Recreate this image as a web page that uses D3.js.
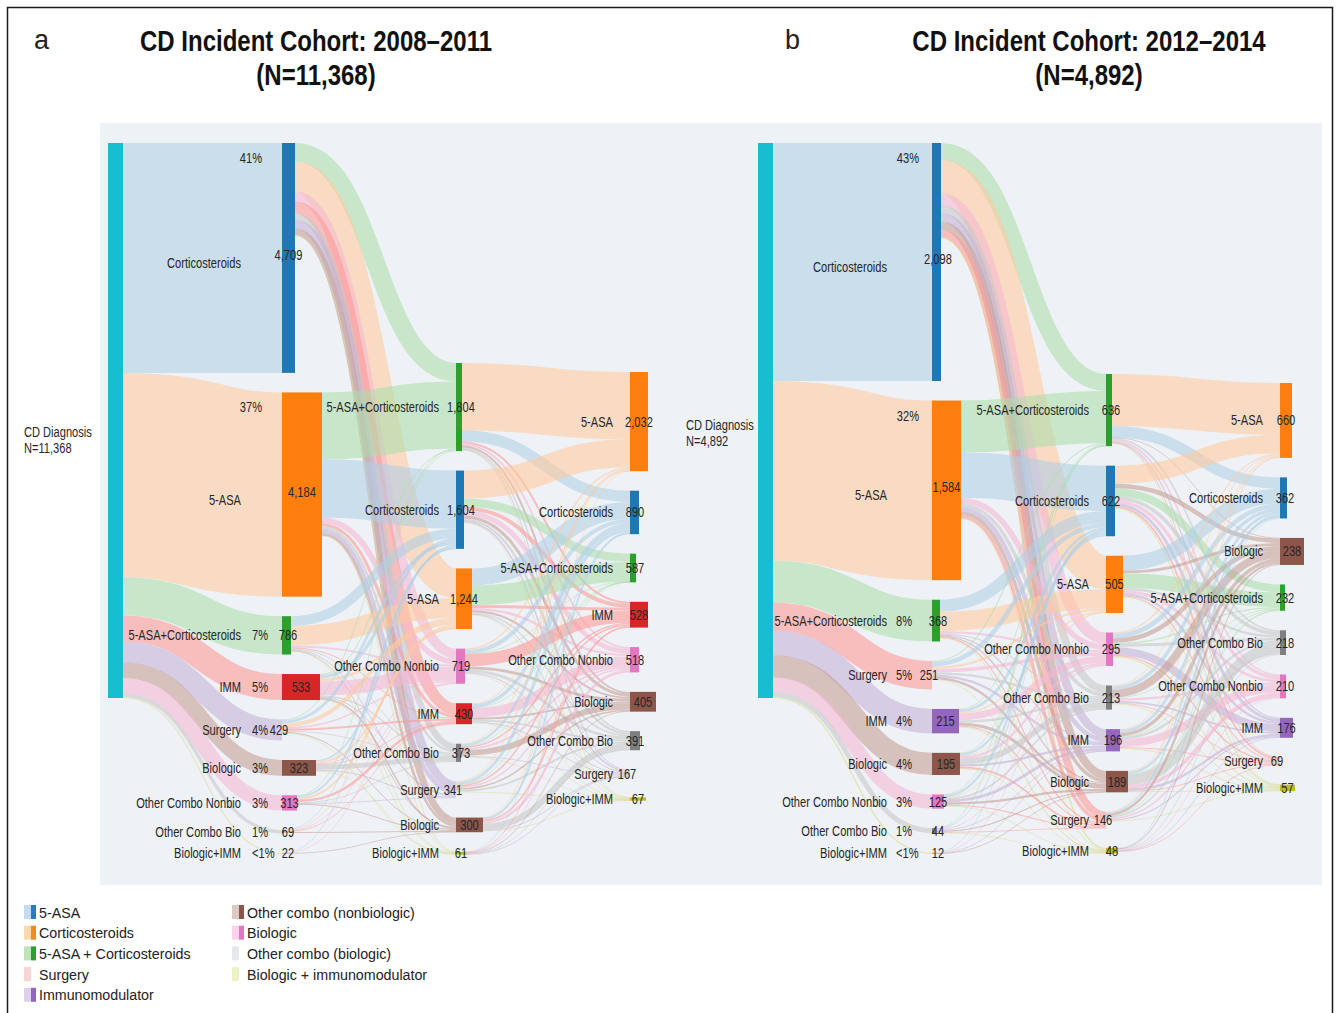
<!DOCTYPE html>
<html>
<head>
<meta charset="utf-8">
<script src="https://cdn.jsdelivr.net/npm/d3@7"></script>
<style>
body { margin: 0; background: #fff; }
svg { display: block; }
</style>
</head>
<body>
<svg id="chart" width="1340" height="1013"></svg>
<script>
// treatment codes -> text shown on the nodes
var nodeLabels = {CS: "Corticosteroids", ASA: "5-ASA", AC: "5-ASA+Corticosteroids", IMM: "IMM",
    SUR: "Surgery", BIO: "Biologic", OCN: "Other Combo Nonbio", OCB: "Other Combo Bio", BIM: "Biologic+IMM"};

// ---- cohort a: 2008-2011 ----
var a_first = ["CS", "ASA", "AC", "IMM", "SUR", "BIO", "OCN", "OCB", "BIM"];
var a_firstN = [4709, 4184, 786, 533, 429, 323, 313, 69, 22];
var a_firstPct = ["41%", "37%", "7%", "5%", "4%", "3%", "3%", "1%", "<1%"];
var a_second = ["AC", "CS", "ASA", "OCN", "IMM", "OCB", "SUR", "BIO", "BIM"];
var a_secondN = [1804, 1604, 1244, 719, 430, 373, 341, 300, 61];
var a_third = ["ASA", "CS", "AC", "IMM", "OCN", "BIO", "OCB", "SUR", "BIM"];
var a_thirdN = [2032, 890, 587, 528, 518, 405, 391, 167, 67];
// rows = first treatment, columns = second treatment
var a_flow12 = [
    [380, 0, 614, 204, 240, 133, 181, 140, 20],
    [1370, 1190, 0, 120, 60, 50, 90, 50, 10],
    [0, 200, 400, 40, 20, 20, 20, 15, 3],
    [20, 70, 60, 290, 0, 30, 20, 30, 10],
    [20, 60, 80, 30, 40, 20, 0, 20, 8],
    [0, 30, 40, 20, 10, 100, 20, 0, 10],
    [14, 40, 40, 0, 50, 20, 10, 20, 0],
    [0, 10, 10, 10, 10, 0, 0, 20, 0],
    [0, 4, 0, 5, 0, 0, 0, 5, 0]
];
// rows = second treatment, columns = third treatment
var a_flow23 = [
    [1380, 230, 0, 40, 40, 40, 30, 20, 5],
    [570, 0, 170, 80, 100, 60, 50, 30, 15],
    [0, 350, 400, 60, 50, 40, 30, 20, 10],
    [30, 80, 5, 250, 0, 60, 60, 20, 10],
    [20, 70, 5, 0, 200, 40, 40, 20, 10],
    [10, 50, 3, 30, 40, 120, 0, 10, 5],
    [20, 60, 4, 30, 30, 30, 40, 0, 5],
    [2, 40, 0, 30, 50, 0, 130, 20, 7],
    [0, 10, 0, 8, 8, 15, 11, 7, 0]
];

// ---- cohort b: 2012-2014 ----
var b_first = ["CS", "ASA", "AC", "SUR", "IMM", "BIO", "OCN", "OCB", "BIM"];
var b_firstN = [2098, 1584, 368, 251, 215, 195, 125, 44, 12];
var b_firstPct = ["43%", "32%", "8%", "5%", "4%", "4%", "3%", "1%", "<1%"];
var b_second = ["AC", "CS", "ASA", "OCN", "OCB", "IMM", "BIO", "SUR", "BIM"];
var b_secondN = [636, 622, 505, 295, 213, 196, 189, 146, 48];
var b_third = ["ASA", "CS", "BIO", "AC", "OCB", "OCN", "IMM", "SUR", "BIM"];
var b_thirdN = [660, 362, 238, 232, 218, 210, 176, 69, 57];
var b_flow12 = [
    [150, 0, 295, 104, 68, 74, 72, 67, 15],
    [458, 400, 0, 50, 30, 40, 30, 30, 8],
    [0, 105, 170, 20, 10, 10, 10, 10, 2],
    [10, 40, 20, 30, 20, 20, 20, 0, 5],
    [5, 25, 10, 60, 20, 0, 25, 10, 8],
    [5, 20, 5, 20, 50, 20, 0, 15, 5],
    [5, 20, 5, 0, 15, 25, 20, 10, 3],
    [3, 8, 0, 8, 0, 5, 10, 4, 2],
    [0, 4, 0, 3, 0, 2, 2, 0, 0]
];
var b_flow23 = [
    [458, 100, 5, 0, 15, 15, 10, 5, 3],
    [160, 0, 40, 70, 30, 30, 25, 15, 10],
    [0, 130, 25, 130, 20, 25, 20, 10, 8],
    [12, 40, 40, 10, 25, 0, 70, 10, 10],
    [8, 30, 70, 6, 0, 20, 15, 8, 8],
    [8, 25, 30, 6, 20, 70, 0, 8, 8],
    [8, 20, 0, 5, 90, 30, 20, 8, 5],
    [6, 12, 20, 5, 12, 15, 10, 0, 5],
    [0, 5, 8, 0, 6, 5, 6, 5, 0]
];

var legendLeft = ["5-ASA", "Corticosteroids", "5-ASA + Corticosteroids", "Surgery", "Immunomodulator"];
var legendRight = ["Other combo (nonbiologic)", "Biologic", "Other combo (biologic)", "Biologic + immunomodulator"];

// ---- styles ----
var sans = "'Liberation Sans', Arial, sans-serif";
var textCol = "#262626";
var baseColors = {
    CS: ["#1f77b4", "#b0cfe6"], ASA: ["#ff7f0e", "#ffc99c"], AC: ["#2ca02c", "#addcaa"],
    BIO: ["#8c564b", "#c49c94"], OCN: ["#e377c2", "#f7b6d2"], OCB: ["#7f7f7f", "#c7c7c7"],
    BIM: ["#bcbd22", "#dbdb8d"]
};
var colorsA = Object.assign({}, baseColors, {IMM: ["#d62728", "#ff9896"], SUR: [null, "#c5b0d5"]});
var colorsB = Object.assign({}, baseColors, {IMM: ["#9467bd", "#c5b0d5"], SUR: [null, "#ff9896"]});
// bar widths for columns 1..3
var widthsA = {CS: [13, 8, 9], ASA: [40, 16, 18], AC: [9, 6, 6], IMM: [38, 16, 18], SUR: [0, 0, 0],
    BIO: [34, 27, 26], OCN: [15, 9, 9], OCB: [2, 5, 10], BIM: [1, 10, 16]};
var widthsB = {CS: [9, 9, 7], ASA: [29, 17, 12], AC: [8, 6, 5], IMM: [27, 14, 13], SUR: [0, 0, 0],
    BIO: [28, 22, 24], OCN: [12, 7, 6], OCB: [4, 6, 6], BIM: [2, 12, 15]};

var svg = d3.select("#chart");

svg.append("rect")
    .attr("x", 7.5).attr("y", 7.5).attr("width", 1325).attr("height", 1040)
    .attr("fill", "#fff").attr("stroke", "#1a1a1a").attr("stroke-width", 1.5);

svg.append("rect")
    .attr("x", 100).attr("y", 123).attr("width", 1222).attr("height", 762)
    .attr("fill", "#eef2f6");

// condensed text: squeeze horizontally around its anchor point
function ntext(parent, tx, ty, str, anchor, size, sx, weight, color) {
    return parent.append("text")
        .attr("transform", "translate(" + tx + "," + ty + ") scale(" + sx + ",1)")
        .attr("text-anchor", anchor)
        .style("font-family", sans)
        .style("font-size", size + "px")
        .style("font-weight", weight || "normal")
        .style("fill", color || textCol)
        .text(str);
}

function drawPanel(p) {
    var g = svg.append("g");
    var total = d3.sum(p.firstN);
    var y = d3.scaleLinear().domain([0, total]).range([0, 555]);
    var x = d3.scaleLinear().domain([0, 3]).range([p.x0, p.x0 + 3 * 174]);
    var pad = 19.5;
    var fmt = d3.format(",");

    var cols = [[{key: "CD", n: total}],
        p.first.map(function(k, i) { return {key: k, n: p.firstN[i], pct: p.firstPct[i]}; }),
        p.second.map(function(k, i) { return {key: k, n: p.secondN[i]}; }),
        p.third.map(function(k, i) { return {key: k, n: p.thirdN[i]}; })];

    cols.forEach(function(col, c) {
        var yy = p.colTop[c];
        col.forEach(function(d) {
            d.col = c;
            d.x = x(c);
            d.w = c == 0 ? 15 : p.widths[d.key][c - 1];
            d.y0 = yy;
            d.y1 = yy + y(d.n);
            d.out = 0; d.inn = 0;
            yy = d.y1 + pad;
        });
    });

    var flows = [[p.firstN], p.flow12, p.flow23];
    var links = [];
    flows.forEach(function(m, c) {
        m.forEach(function(row, i) {
            row.forEach(function(v, j) {
                if (!v) return;
                var s = cols[c][i], t = cols[c + 1][j], w = y(v);
                links.push({
                    sx: s.x + s.w, sy: s.y0 + s.out + w / 2,
                    tx: t.x, ty: t.y0 + t.inn + w / 2,
                    w: w, color: p.colors[t.key][1]
                });
                s.out += w; t.inn += w;
            });
        });
    });

    var linkGen = d3.linkHorizontal();
    g.append("g").selectAll("path")
        .data(links)
        .enter()
        .append("path")
        .attr("d", function(d) { return linkGen({source: [d.sx, d.sy], target: [d.tx, d.ty]}); })
        .attr("fill", "none")
        .attr("stroke", function(d) { return d.color; })
        .attr("stroke-opacity", 0.58)
        .attr("stroke-width", function(d) { return Math.max(0.8, d.w); });

    var nodes = d3.merge(cols);
    g.append("g").selectAll("rect")
        .data(nodes.filter(function(d) { return d.w > 0 && (d.col == 0 || p.colors[d.key][0]); }))
        .enter()
        .append("rect")
        .attr("x", function(d) { return d.x; })
        .attr("y", function(d) { return d.y0; })
        .attr("width", function(d) { return d.w; })
        .attr("height", function(d) { return Math.max(1, d.y1 - d.y0); })
        .attr("fill", function(d) { return d.col == 0 ? "#17becf" : p.colors[d.key][0]; });

    function label(tx, ty, str, anchor) {
        ntext(g, tx, ty + 5, str, anchor, 15, 0.74);
    }
    function valueX(d, minW) {
        return d.w ? d.x + Math.max(d.w, minW) / 2 : d.x - 3;
    }

    // CD Diagnosis
    var cd = cols[0][0];
    label(p.cdLabelX, (cd.y0 + cd.y1) / 2 + p.cdLabelDy, "CD Diagnosis", "start");
    label(p.cdLabelX, (cd.y0 + cd.y1) / 2 + p.cdLabelDy + 16, "N=" + fmt(total), "start");

    cols[1].forEach(function(d, i) {
        var mid = (d.y0 + d.y1) / 2;
        label(d.x - p.nameOff, mid + (i < 2 ? 5 : 0), nodeLabels[d.key], "end");
        if (i < 2) label(d.x - p.bigPctOff, d.y0 + 15, d.pct, "end");
        else label(d.x - p.pctOff, mid, d.pct, "start");
        label(valueX(d, 12), mid + (i < 2 ? -3 : 0), fmt(d.n), "middle");
    });
    [2, 3].forEach(function(c) {
        cols[c].forEach(function(d) {
            var mid = (d.y0 + d.y1) / 2;
            label(d.x - 17, mid, nodeLabels[d.key], "end");
            label(valueX(d, 10), mid, fmt(d.n), "middle");
        });
    });

    // titles
    svg.append("text")
        .attr("x", p.letterX).attr("y", 49)
        .style("font-family", sans)
        .style("font-size", "27px")
        .style("fill", "#222")
        .text(p.letter);
    ntext(svg, p.titleX, 51, p.title, "middle", 30, 0.8, "bold", "#111");
    ntext(svg, p.titleX, 85, "(N=" + fmt(total) + ")", "middle", 30, 0.8, "bold", "#111");
}

drawPanel({
    first: a_first, firstN: a_firstN, firstPct: a_firstPct,
    second: a_second, secondN: a_secondN, third: a_third, thirdN: a_thirdN,
    flow12: a_flow12, flow23: a_flow23,
    colors: colorsA, widths: widthsA,
    x0: 108, colTop: [143, 143, 363, 372],
    nameOff: 41, pctOff: 30, bigPctOff: 20,
    cdLabelX: 24, cdLabelDy: 11,
    letter: "a", letterX: 34, title: "CD Incident Cohort: 2008\u20132011", titleX: 316
});

drawPanel({
    first: b_first, firstN: b_firstN, firstPct: b_firstPct,
    second: b_second, secondN: b_secondN, third: b_third, thirdN: b_thirdN,
    flow12: b_flow12, flow23: b_flow23,
    colors: colorsB, widths: widthsB,
    x0: 758, colTop: [143, 143, 374, 383],
    nameOff: 45, pctOff: 36, bigPctOff: 13,
    cdLabelX: 686, cdLabelDy: 4,
    letter: "b", letterX: 785, title: "CD Incident Cohort: 2012\u20132014", titleX: 1089
});

// legend
var legendSw = [
    ["#c6dbef", "#2b7bba"], ["#fdd9ab", "#f28a22"], ["#bfe3b8", "#2ca02c"], ["#fad4d4", null], ["#ddd2ea", "#9467bd"],
    ["#dccac5", "#8c564b"], ["#fbd3e6", "#e377c2"], ["#e7e8ec", null], ["#eef1c4", null]
];
var legendItems = legendLeft.map(function(t, i) { return {t: t, col: 0, row: i, sw: legendSw[i]}; })
    .concat(legendRight.map(function(t, i) { return {t: t, col: 1, row: i, sw: legendSw[5 + i]}; }));

var lg = svg.append("g").selectAll("g")
    .data(legendItems)
    .enter()
    .append("g")
    .attr("transform", function(d) { return "translate(" + (d.col ? 232 : 24) + "," + (912 + d.row * 20.7) + ")"; });
lg.append("rect").attr("x", 0).attr("y", -7).attr("width", 7).attr("height", 14)
    .attr("fill", function(d) { return d.sw[0]; });
lg.filter(function(d) { return d.sw[1]; })
    .append("rect").attr("x", 7).attr("y", -7).attr("width", 5).attr("height", 14)
    .attr("fill", function(d) { return d.sw[1]; });
lg.each(function(d) {
    ntext(d3.select(this), 15, 5.5, d.t, "start", 15.5, 0.92, "normal", "#222");
});
</script>
</body>
</html>
